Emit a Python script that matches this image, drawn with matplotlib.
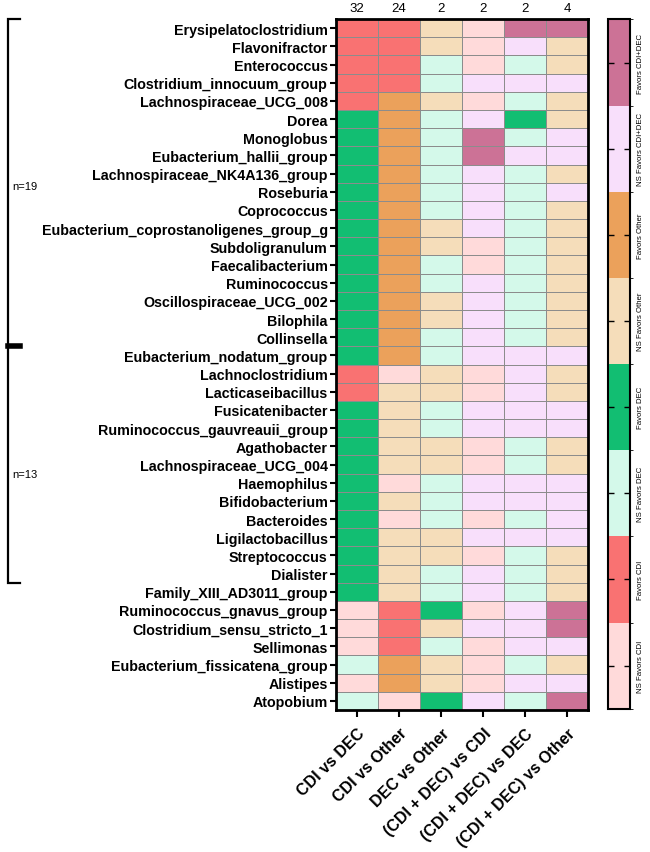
import numpy as np
import matplotlib
matplotlib.use('Agg')
import matplotlib.pyplot as plt
from matplotlib.colors import ListedColormap, BoundaryNorm
from matplotlib import transforms

plt.rcParams['font.family'] = ['Liberation Sans', 'DejaVu Sans']

# taxa, top to bottom
taxa = [
    'Erysipelatoclostridium', 'Flavonifractor', 'Enterococcus',
    'Clostridium_innocuum_group', 'Lachnospiraceae_UCG_008', 'Dorea',
    'Monoglobus', 'Eubacterium_hallii_group', 'Lachnospiraceae_NK4A136_group',
    'Roseburia', 'Coprococcus', 'Eubacterium_coprostanoligenes_group_g',
    'Subdoligranulum', 'Faecalibacterium', 'Ruminococcus',
    'Oscillospiraceae_UCG_002', 'Bilophila', 'Collinsella',
    'Eubacterium_nodatum_group', 'Lachnoclostridium', 'Lacticaseibacillus',
    'Fusicatenibacter', 'Ruminococcus_gauvreauii_group', 'Agathobacter',
    'Lachnospiraceae_UCG_004', 'Haemophilus', 'Bifidobacterium',
    'Bacteroides', 'Ligilactobacillus', 'Streptococcus', 'Dialister',
    'Family_XIII_AD3011_group', 'Ruminococcus_gnavus_group',
    'Clostridium_sensu_stricto_1', 'Sellimonas',
    'Eubacterium_fissicatena_group', 'Alistipes', 'Atopobium',
]

comparisons = ['CDI vs DEC', 'CDI vs Other', 'DEC vs Other',
               '(CDI + DEC) vs CDI', '(CDI + DEC) vs DEC', '(CDI + DEC) vs Other']
n_sig = [32, 24, 2, 2, 2, 4]

# category codes 1..8
categories = ['NS Favors CDI', 'Favors CDI', 'NS Favors DEC', 'Favors DEC',
              'NS Favors Other', 'Favors Other', 'NS Favors CDI+DEC', 'Favors CDI+DEC']
cat_colors = ['#FFDADA', '#F97272', '#D4F9EA', '#12BE72',
              '#F5DDBA', '#EBA15B', '#F8DFFB', '#CC7296']

cdi_vs_dec = [2, 2, 2, 2, 2, 4, 4, 4, 4, 4, 4, 4, 4, 4, 4, 4, 4, 4, 4,
              2, 2, 4, 4, 4, 4, 4, 4, 4, 4, 4, 4, 4, 1, 1, 1, 3, 1, 3]
cdi_vs_other = [2, 2, 2, 2, 6, 6, 6, 6, 6, 6, 6, 6, 6, 6, 6, 6, 6, 6, 6,
                1, 5, 5, 5, 5, 5, 1, 5, 1, 5, 5, 5, 5, 2, 2, 2, 6, 6, 1]
dec_vs_other = [5, 5, 3, 3, 5, 3, 3, 3, 3, 3, 3, 5, 5, 3, 3, 5, 5, 3, 3,
                5, 5, 3, 3, 5, 5, 3, 3, 3, 5, 5, 3, 3, 4, 5, 3, 5, 5, 4]
both_vs_cdi = [1, 1, 1, 7, 1, 7, 8, 8, 7, 7, 7, 7, 1, 1, 7, 7, 7, 7, 7,
               1, 1, 7, 7, 1, 1, 7, 7, 1, 7, 1, 7, 7, 1, 7, 1, 1, 1, 7]
both_vs_dec = [8, 7, 3, 7, 3, 4, 3, 7, 3, 3, 3, 3, 3, 3, 3, 3, 3, 3, 7,
               7, 7, 7, 7, 3, 3, 7, 7, 3, 7, 3, 3, 3, 7, 7, 7, 3, 7, 3]
both_vs_other = [8, 5, 5, 7, 5, 5, 7, 7, 5, 7, 5, 5, 5, 5, 5, 5, 5, 5, 7,
                 5, 5, 7, 7, 5, 5, 7, 7, 7, 7, 5, 5, 5, 8, 8, 7, 5, 7, 8]

# bracket: label, top, junction/bottom (row units), label row
groups = [('n=19', 0, 18, 9.2), ('n=13', 18, 31, 25.0)]

Z = np.array([cdi_vs_dec, cdi_vs_other, dec_vs_other,
              both_vs_cdi, both_vs_dec, both_vs_other]).T

cmap = ListedColormap(cat_colors)
norm = BoundaryNorm(np.arange(0.5, 9.5, 1), cmap.N)

fig = plt.figure(figsize=(6.5, 8.53), dpi=100)
ax = fig.add_axes([0.517, 0.1665, 0.388, 0.81])
mesh = ax.pcolormesh(np.arange(Z.shape[1] + 1), np.arange(Z.shape[0] + 1), Z,
                     cmap=cmap, norm=norm, edgecolors='#8c8c8c', linewidth=0.5)
ax.set_xlim(0, Z.shape[1])
ax.set_ylim(Z.shape[0], 0)

ax.set_yticks(np.arange(len(taxa)) + 0.5)
ax.set_yticklabels(taxa, fontsize=10.3, fontweight='bold')
ax.set_xticks(np.arange(len(comparisons)) + 0.5)
ax.set_xticklabels(comparisons, fontsize=11.5, fontweight='bold',
                   rotation=45, ha='right', rotation_mode='anchor')
ax.tick_params(axis='y', length=4, width=1.5, pad=2)
ax.tick_params(axis='x', length=5, width=1.5, pad=6)
for s in ax.spines.values():
    s.set_linewidth(2)

# counts on top
for i, n in enumerate(n_sig):
    ax.text(i + 0.5, -0.3, str(n), ha='center', va='bottom', fontsize=9.5)

# group bracket on the left
tr = transforms.blended_transform_factory(fig.transFigure, ax.transData)
xb = 0.013
xt = 0.031
ax.plot([xt, xb, xb], [0, 0, groups[0][2]], transform=tr, color='black',
        lw=1.6, clip_on=False, solid_joinstyle='miter')
ax.plot([xb, xb, xt], [groups[1][1], groups[1][2], groups[1][2]], transform=tr,
        color='black', lw=1.6, clip_on=False, solid_joinstyle='miter')
ax.plot([xb, xt], [groups[0][2], groups[0][2]], transform=tr, color='black',
        lw=4, clip_on=False)
for label, y0, y1, ylab in groups:
    ax.text(xb + 0.006, ylab, label, transform=tr, fontsize=8,
            va='center', ha='left')

# colorbar
cax = fig.add_axes([0.935, 0.168, 0.034, 0.808])
cb = fig.colorbar(mesh, cax=cax, ticks=np.arange(1, 9))
cb.set_ticklabels(categories)
cb.outline.set_linewidth(1.5)
cax.tick_params(direction='in', left=True, right=True, length=4, width=1,
                labelsize=5.6, pad=5)
for t in cax.get_yticklabels():
    t.set_rotation(90)
    t.set_va('center')

plt.savefig('out.png', dpi=100)
